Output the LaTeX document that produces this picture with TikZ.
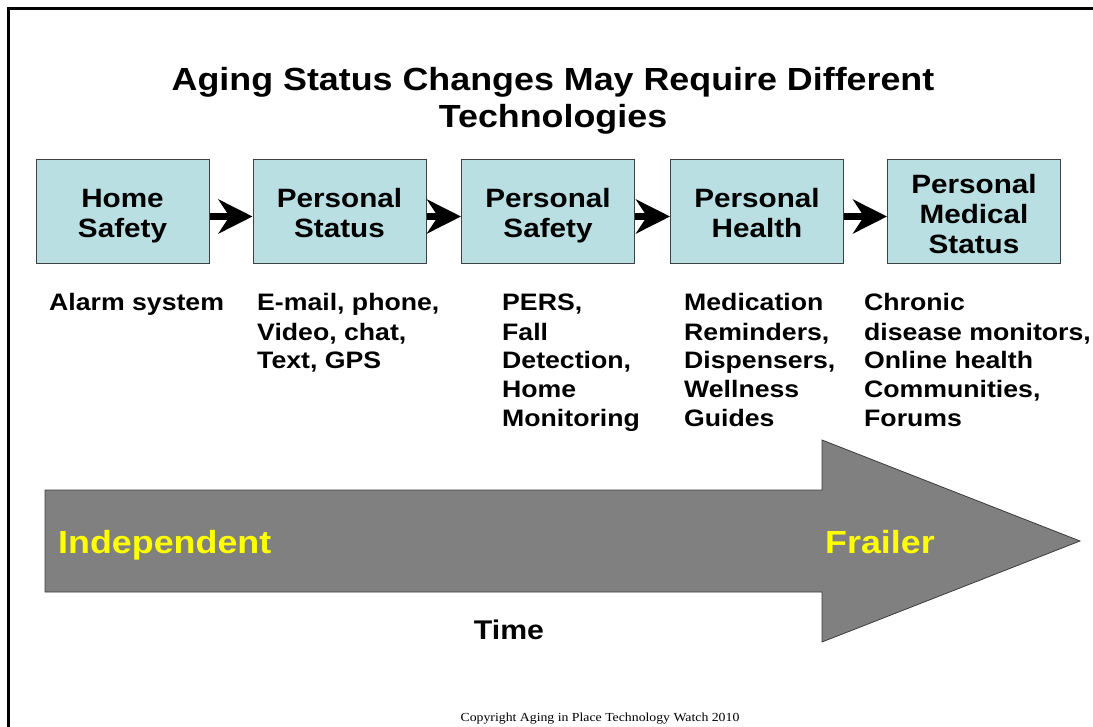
\documentclass[tikz,border=0pt]{standalone}
\usepackage{fontspec}
\setmainfont{Liberation Sans}[FakeStretch=1.12]
\newfontfamily\copyfont{Liberation Serif}[FakeStretch=1.12]
\usetikzlibrary{arrows.meta}
\definecolor{boxfill}{HTML}{B9DFE2}
\definecolor{boxline}{HTML}{404040}
\definecolor{bigfill}{HTML}{808080}
\definecolor{bigline}{HTML}{3C3C3C}
\definecolor{labelyellow}{HTML}{FFFF00}
\begin{document}
\begin{tikzpicture}[x=1pt,y=-1pt,
  stagebox/.style={draw=boxline, line width=1pt, fill=boxfill, minimum width=173pt, minimum height=104pt, inner sep=0pt},
  stagetext/.style={font=\bfseries\fontsize{26.5}{30}\selectfont, align=center, anchor=base, inner sep=0pt},
  desctext/.style={font=\bfseries\fontsize{23.8}{29}\selectfont, align=left, anchor=base west, inner sep=0pt},
  flowarrow/.style={line width=7pt, -{Stealth[length=34pt, width=34pt, inset=11pt]}},
  bigtext/.style={font=\bfseries\fontsize{32}{37}\selectfont, text=labelyellow, anchor=base west, inner sep=0pt},
]
\useasboundingbox (0,0) rectangle (1093,727);
% frame
\draw[line width=3.3pt] (8.5,727) -- (8.5,8.5) -- (1093,8.5);
% title (anchor base = baseline of last line)
\node[anchor=base, align=center, inner sep=0pt, font=\bfseries\fontsize{32}{37}\selectfont] (title) at (553,128) {Aging Status Changes May Require Different\\Technologies};
% stage boxes
\node[stagebox] (b1) at (122.5,212) {};
\node[stagebox] (b2) at (339.5,212) {};
\node[stagebox] (b3) at (548,212) {};
\node[stagebox] (b4) at (757,212) {};
\node[stagebox] (b5) at (974,212) {};
\node[stagetext] (t1) at (122.5,238) {Home\\Safety};
\node[stagetext] (t2) at (339.5,238) {Personal\\Status};
\node[stagetext] (t3) at (548,238) {Personal\\Safety};
\node[stagetext] (t4) at (757,238) {Personal\\Health};
\node[stagetext] (t5) at (974,254) {Personal\\Medical\\Status};
% connectors
\draw[flowarrow] ([yshift=-4.5pt]b1.east) -- ([yshift=-4.5pt]b2.west);
\draw[flowarrow] ([yshift=-4.5pt]b2.east) -- ([yshift=-4.5pt]b3.west);
\draw[flowarrow] ([yshift=-4.5pt]b3.east) -- ([yshift=-4.5pt]b4.west);
\draw[flowarrow] ([yshift=-4.5pt]b4.east) -- ([yshift=-4.5pt]b5.west);
% descriptions (anchor base = baseline of last line)
\node[desctext] (d1) at (49,311) {Alarm system};
\node[desctext] (d2) at (257,369) {E-mail, phone,\\Video, chat,\\Text, GPS};
\node[desctext] (d3) at (502,427) {PERS,\\Fall\\Detection,\\Home\\Monitoring};
\node[desctext] (d4) at (684,427) {Medication\\Reminders,\\Dispensers,\\Wellness\\Guides};
\node[desctext] (d5) at (864,427) {Chronic\\disease monitors,\\Online health\\Communities,\\Forums};
% big time arrow
\draw[fill=bigfill, draw=bigline, line width=0.8pt] (45,490) -- (822,490) -- (822,440) -- (1080,541) -- (822,642) -- (822,592) -- (45,592) -- cycle;
\node[bigtext] (indep) at (58,553) {Independent};
\node[bigtext] (frail) at (825,553) {Frailer};
\node[anchor=base, inner sep=0pt, font=\bfseries\fontsize{27}{31}\selectfont] (time) at (509,639) {Time};
% copyright
\node[anchor=base, inner sep=0pt, font=\copyfont\fontsize{12.3}{14}\selectfont] (copy) at (600,721) {Copyright Aging in Place Technology Watch 2010};
\end{tikzpicture}
\end{document}
